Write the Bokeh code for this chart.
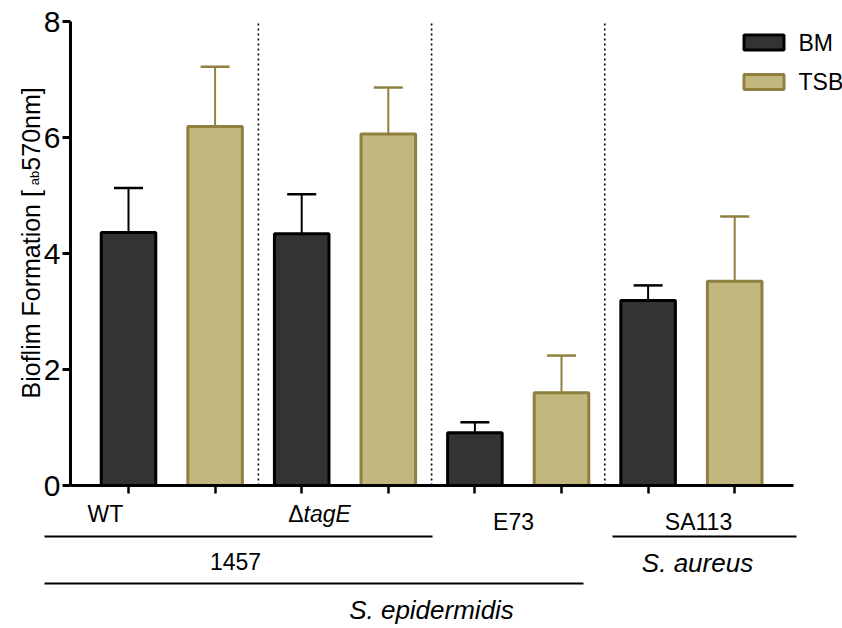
import math
from bokeh.plotting import figure
from bokeh.models import Range1d, FixedTicker
from bokeh.core.properties import value
from bokeh.embed import file_html
from bokeh.resources import INLINE

# ---------------- data ----------------
strains = ["WT", "ΔtagE", "E73", "SA113"]
media = ["BM", "TSB"]
bm_mean = [4.36, 4.34, 0.91, 3.19]
bm_sd = [0.77, 0.68, 0.18, 0.26]
tsb_mean = [6.19, 6.06, 1.60, 3.52]
tsb_sd = [1.03, 0.80, 0.64, 1.12]
y_ticks = [0, 2, 4, 6, 8]
y_title_parts = ["Bioflim Formation [", "ab", "570nm]"]
group_labels = ["1457", "S. aureus", "S. epidermidis"]

# ---------------- layout helpers ----------------
W, H = 842, 628
PX_CAT = 86.6     # pixels per bar slot
X_FIRST = 128     # pixel centre of first bar
PX_UNIT = 58      # pixels per y unit
Y_ZERO = 485      # pixel row of y = 0
FONT = "Liberation Sans"

def dx(px):
    return (px - X_FIRST) / PX_CAT

def dy(py):
    return (Y_ZERO - py) / PX_UNIT

BM_FILL, BM_LINE = "#333333", "#000000"
TSB_FILL, TSB_LINE = "#C2B77E", "#8F8040"

p = figure(width=W, height=H,
           x_range=Range1d(dx(0), dx(W)), y_range=Range1d(dy(H), dy(0)),
           output_backend="svg", toolbar_location=None,
           min_border_left=0, min_border_right=0, min_border_top=0, min_border_bottom=0)
p.outline_line_color = None
p.xgrid.visible = False
p.ygrid.visible = False
p.background_fill_color = "white"

n = len(strains)
bm_x = [2 * i for i in range(n)]
tsb_x = [2 * i + 1 for i in range(n)]
BAR_W = 0.63
CAP = 0.1675

# error bars (upper only)
for xs, means, sds, col in [(bm_x, bm_mean, bm_sd, BM_LINE), (tsb_x, tsb_mean, tsb_sd, TSB_LINE)]:
    tops = [m + s for m, s in zip(means, sds)]
    p.segment(x0=xs, y0=means, x1=xs, y1=tops, line_color=col, line_width=2)
    p.segment(x0=[x - CAP for x in xs], y0=tops, x1=[x + CAP for x in xs], y1=tops,
              line_color=col, line_width=2.5)

# bars
p.vbar(x=bm_x, top=bm_mean, bottom=0, width=BAR_W, fill_color=BM_FILL,
       line_color=BM_LINE, line_width=3)
p.vbar(x=tsb_x, top=tsb_mean, bottom=0, width=BAR_W, fill_color=TSB_FILL,
       line_color=TSB_LINE, line_width=3)

# dotted separators between strains
sep_x = [2 * i + 1.5 for i in range(n - 1)]
p.segment(x0=sep_x, y0=[0] * len(sep_x), x1=sep_x, y1=[y_ticks[-1]] * len(sep_x),
          line_color="#000000", line_width=1.6, line_dash="2 3")

# axes
ya = p.yaxis[0]
ya.fixed_location = dx(70)
ya.bounds = (0, y_ticks[-1])
ya.ticker = FixedTicker(ticks=y_ticks)
ya.axis_line_width = 3
ya.axis_line_color = "black"
ya.major_tick_line_width = 3
ya.major_tick_out = 8
ya.major_tick_in = 0
ya.minor_tick_out = 0
ya.minor_tick_in = 0
ya.major_label_text_font = FONT
ya.major_label_text_font_size = "30px"
ya.major_label_text_color = "black"
ya.major_label_standoff = 2

xa = p.xaxis[0]
xa.fixed_location = 0
xa.bounds = (dx(70), dx(793))
x_ticks = sorted(bm_x + tsb_x)
xa.ticker = FixedTicker(ticks=x_ticks)
xa.major_label_overrides = {t: "" for t in x_ticks}
xa.axis_line_width = 3
xa.axis_line_color = "black"
xa.major_tick_line_width = 2.5
xa.major_tick_out = 8
xa.major_tick_in = 0
xa.minor_tick_out = 0
xa.minor_tick_in = 0

# y-axis title (rotated, with subscript)
TITLE_PX = 25
start_py = 398
w1 = 8.534 * TITLE_PX
w2 = 14.5
p.text(x=[dx(30), dx(33.5), dx(30)],
       y=[dy(start_py), dy(start_py - w1), dy(start_py - w1 - w2)],
       text=y_title_parts, angle=math.pi / 2, text_align="left", text_baseline="alphabetic",
       text_font=value(FONT), text_font_size=[f"{TITLE_PX}px", "13px", f"{TITLE_PX}px"],
       text_color="black")

# legend
p.rect(x=[dx(763.5)] * 2, y=[dy(42), dy(81.5)], width=40, height=15,
       width_units="screen", height_units="screen",
       fill_color=[BM_FILL, TSB_FILL], line_color=[BM_LINE, TSB_LINE], line_width=3)
p.text(x=[dx(798)] * 2, y=[dy(42), dy(81.5)], text=media, text_align="left",
       text_baseline="middle", text_font=value(FONT), text_font_size="23px", text_color="black")

# strain labels under the axis
p.text(x=[dx(105), dx(513), dx(698)], y=[dy(513), dy(521), dy(521)],
       text=[strains[0], strains[2], strains[3]], text_align="center", text_baseline="middle",
       text_font=value(FONT), text_font_size="23px", text_color="black")
p.text(x=[dx(303)], y=[dy(513)], text=[strains[1][0]], text_align="right",
       text_baseline="middle", text_font=value(FONT), text_font_size="23px", text_color="black")
p.text(x=[dx(303)], y=[dy(513)], text=[strains[1][1:]], text_align="left",
       text_baseline="middle", text_font=value(FONT), text_font_size="23px",
       text_font_style="italic", text_color="black")

# group lines
p.segment(x0=[dx(44), dx(44), dx(612)], y0=[dy(536), dy(583), dy(536)],
          x1=[dx(432), dx(583), dx(796)], y1=[dy(536), dy(583), dy(536)],
          line_color="black", line_width=2)

# group labels
p.text(x=[dx(235)], y=[dy(561)], text=[group_labels[0]], text_align="center",
       text_baseline="middle", text_font=value(FONT), text_font_size="23px", text_color="black")
p.text(x=[dx(697), dx(431)], y=[dy(562), dy(609)], text=[group_labels[1], group_labels[2]],
       text_align="center", text_baseline="middle", text_font=value(FONT),
       text_font_size="26px", text_font_style="italic", text_color="black")

open("out.html", "w").write(file_html(p, INLINE))
